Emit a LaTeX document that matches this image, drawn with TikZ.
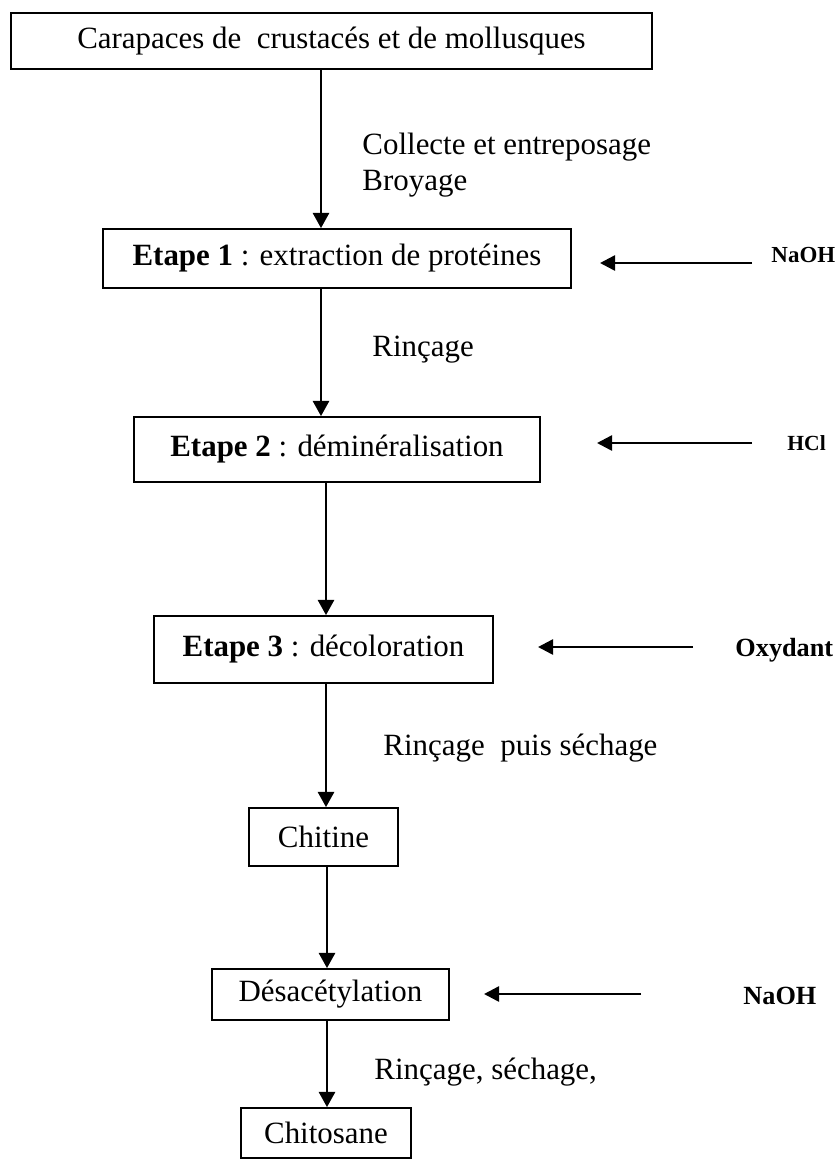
\documentclass[tikz,border=0pt]{standalone}
\usepackage{fontspec}
\setmainfont{Liberation Serif}
\usetikzlibrary{arrows.meta}
\tikzset{
	boite/.style={draw,line width=0.8pt,inner sep=0pt,font=\fontsize{13.2}{16}\selectfont},
	fleche/.style={line width=0.8pt,-{Triangle[length=6.5pt,width=7pt]}},
	apport/.style={line width=1.1pt,-{Triangle[length=6.5pt,width=6.5pt]}},
	reactif/.style={anchor=west,inner sep=0pt},
	etiq/.style={anchor=west,align=left,inner sep=0pt,font=\fontsize{13.2}{15.3}\selectfont}
}
\begin{document}
\begin{tikzpicture}[x=0.015cm,y=-0.015cm]
		\useasboundingbox (0,0) rectangle (839,1160);
		\node[boite,minimum width=9.615cm,minimum height=0.84cm] (carapaces) at (331.5,41) {Carapaces de\ \ crustacés et de mollusques};
		\node[boite,minimum width=7.02cm,minimum height=0.885cm] (etape1) at (337,258.5) {\textbf{Etape 1} : extraction de protéines};
		\node[boite,minimum width=6.09cm,minimum height=0.975cm] (etape2) at (337,449.5) {\textbf{Etape 2} : déminéralisation};
		\node[boite,minimum width=5.085cm,minimum height=1.005cm] (etape3) at (323.5,649.5) {\textbf{Etape 3} : décoloration};
		\node[boite,minimum width=2.235cm,minimum height=0.87cm] (chitine) at (323.5,837) {Chitine};
		\node[boite,minimum width=3.555cm,minimum height=0.765cm] (desacet) at (330.5,994.5) {Désacétylation};
		\node[boite,minimum width=2.55cm,minimum height=0.75cm] (chitosane) at (326,1133) {Chitosane};
		\draw[fleche] (carapaces.south -| 321,0) -- (etape1.north -| 321,0);
		\draw[fleche] (etape1.south -| 321,0) -- (etape2.north -| 321,0);
		\draw[fleche] (etape2.south -| 326,0) -- (etape3.north -| 326,0);
		\draw[fleche] (etape3.south -| 326,0) -- (chitine.north -| 326,0);
		\draw[fleche] (chitine.south -| 327,0) -- (desacet.north -| 327,0);
		\draw[fleche] (desacet.south -| 327,0) -- (chitosane.north -| 327,0);
		\node[etiq] (collecte) at (362,165) {Collecte et entreposage\\Broyage};
		\node[etiq] (rincage1) at (372,350) {Rinçage};
		\node[etiq] (rincage2) at (383,748) {Rinçage\ \ puis séchage};
		\node[etiq] (rincage3) at (374,1072) {Rinçage, séchage,};
		\node[reactif,font=\bfseries\fontsize{9.8}{12}\selectfont] (naoh1) at (771,255) {NaOH};
		\node[reactif,font=\bfseries\fontsize{9.2}{11}\selectfont] (hcl) at (787,443) {HCl};
		\node[reactif,font=\bfseries\fontsize{11.2}{13}\selectfont] (oxydant) at (735,650) {Oxydant};
		\node[reactif,font=\bfseries\fontsize{11.2}{13}\selectfont] (naoh2) at (743,996) {NaOH};
		\coordinate (q1) at (752,263); \coordinate (p1) at (600,263);
		\coordinate (q2) at (752,443); \coordinate (p2) at (597,443);
		\coordinate (q3) at (693,647); \coordinate (p3) at (538,647);
		\coordinate (q4) at (641,994); \coordinate (p4) at (484,994);
		\draw[apport] (q1) -- (p1);
		\draw[apport] (q2) -- (p2);
		\draw[apport] (q3) -- (p3);
		\draw[apport] (q4) -- (p4);
\end{tikzpicture}
\end{document}
